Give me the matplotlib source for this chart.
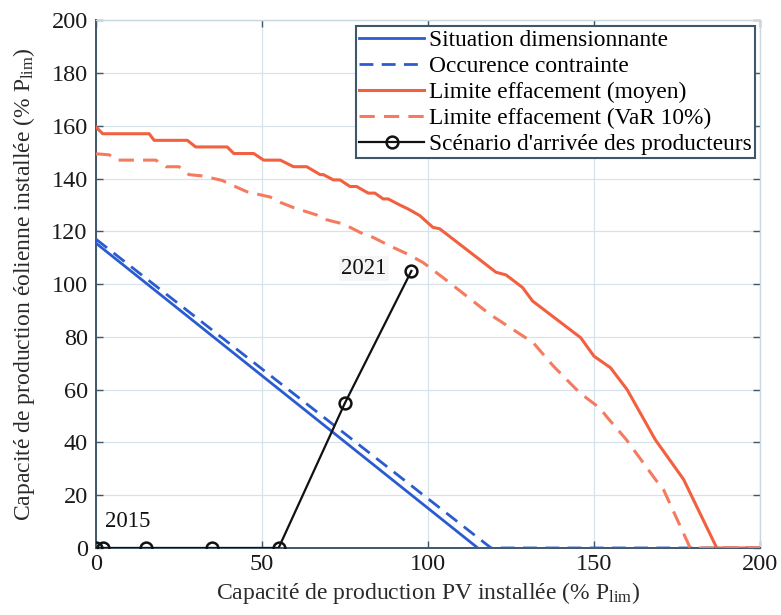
import numpy as np
import matplotlib
matplotlib.use("Agg")
import matplotlib.pyplot as plt

plt.rcParams['font.family'] = ['Liberation Serif', 'DejaVu Serif']
plt.rcParams['mathtext.fontset'] = 'custom'
plt.rcParams['mathtext.rm'] = 'Liberation Serif'
plt.rcParams['mathtext.it'] = 'Liberation Serif:italic'

# situation dimensionnante / occurence contrainte
sit_x = [0, 115]
sit_y = [115.5, 0]
occ_x = [0, 119, 200]
occ_y = [117, 0, 0]

# limite effacement (moyen)
moy_x = [0, 2, 16, 17.5, 27.5, 30, 39.5, 41.5, 47.5, 50.5, 55.5, 59.5, 63.5, 67.5, 68.5,
         71.5, 73.5, 76.5, 78.5, 82, 84, 86.5, 88, 91.5, 94, 97.5, 101.5, 103.5, 120.5,
         123.5, 128.5, 131.5, 146, 150, 155, 160, 168.5, 177, 182, 187, 200]
moy_y = [159.5, 157, 157, 154.5, 154.5, 152, 152, 149.5, 149.5, 147, 147, 144.5, 144.5,
         141.5, 141.5, 139.5, 139.5, 137, 137, 134.5, 134.5, 132.3, 132.3, 130, 128.5, 126,
         121.5, 121, 104.5, 103.5, 98.7, 93.6, 79.7, 72.7, 68.3, 60, 41, 26, 13, 0, 0]

# limite effacement (VaR 10%)
var_x = [0, 4, 6, 18, 21, 25, 28, 32, 38, 41, 45.5, 52.5, 55.5, 59.5, 66.5, 68.5, 74.5,
         80.5, 83.5, 88.5, 94, 98.5, 104.5, 118.7, 131.7, 137.8, 145.8, 151.8, 153.8,
         159.8, 168.5, 171, 179, 200]
var_y = [149.4, 149, 147, 147, 144.5, 144.5, 141.5, 141, 139.3, 137.5, 135, 133, 131, 129,
         126.2, 124.7, 122.8, 119, 117.7, 114.5, 111.3, 108.2, 102.5, 88.5, 77.8, 68.9,
         58.7, 53, 49.8, 41, 26, 22, 0, 0]

# scenario d'arrivee des producteurs
scen_x = [0, 2, 15, 35, 55, 75, 95]
scen_y = [0, 0, 0, 0, 0, 55, 105]

xticks = [0, 50, 100, 150, 200]
yticks = list(range(0, 201, 20))

blue = '#2b5ccf'
red = '#f2603f'
red2 = '#f57b5f'
axcol = '#3f5767'

fig = plt.figure(figsize=(7.81, 6.15), dpi=100)
ax = fig.add_axes([0.123, 0.109, 0.850, 0.858])

ax.plot(sit_x, sit_y, color=blue, lw=2.0, label='Situation dimensionnante', zorder=3)
ax.plot(occ_x, occ_y, color=blue, lw=2.0, dashes=(5, 3), label='Occurence contrainte', zorder=3)
ax.plot(moy_x, moy_y, color=red, lw=2.2, label='Limite effacement (moyen)', zorder=4)
ax.plot(var_x, var_y, color=red2, lw=2.2, dashes=(5, 3), label='Limite effacement (VaR 10%)', zorder=4)
ax.plot(scen_x, scen_y, color='#111111', lw=1.6, marker='o', ms=8.5, mfc='none',
        mew=1.8, label="Scénario d'arrivée des producteurs", zorder=5)

ax.text(2.7, 10, '2015', fontsize=16.5, ha='left', va='center', color='#111111')
ax.text(87.5, 106, '2021', fontsize=16.5, ha='right', va='center', color='#111111',
        bbox=dict(facecolor='#f6f6f6', edgecolor='none', pad=1.5), zorder=6)

ax.set_xlim(0, 200)
ax.set_ylim(0, 200)
ax.set_xticks(xticks)
ax.set_yticks(yticks)
ax.grid(True, color='#d6e3eb', lw=0.9)
ax.set_axisbelow(True)
ax.tick_params(direction='in', length=5, width=1, colors=axcol, labelcolor='#1a1a1a',
               labelsize=17.5, top=True, right=True)
ax.tick_params(axis='y', pad=6)
ax.tick_params(axis='x', pad=4)
for s in ['left', 'bottom']:
    ax.spines[s].set_color(axcol)
    ax.spines[s].set_linewidth(1.4)
for s in ['top', 'right']:
    ax.spines[s].set_color('#c9d7e0')
    ax.spines[s].set_linewidth(1.0)

ax.set_xlabel(r"Capacité de production PV installée (% P$_{\mathrm{lim}}$)",
              fontsize=17, color='#2a2a2a', labelpad=4)
ax.set_ylabel(r"Capacité de production éolienne installée (% P$_{\mathrm{lim}}$)",
              fontsize=17, color='#2a2a2a', labelpad=10)

leg = ax.legend(loc='upper right', bbox_to_anchor=(0.993, 0.989), fontsize=16.8,
                handlelength=2.8, handletextpad=0.2, labelspacing=0.2,
                borderpad=0.15, borderaxespad=0.0, fancybox=False, framealpha=1)
leg.get_frame().set_edgecolor(axcol)
leg.get_frame().set_linewidth(1.5)

fig.savefig('out.png', dpi=100)
